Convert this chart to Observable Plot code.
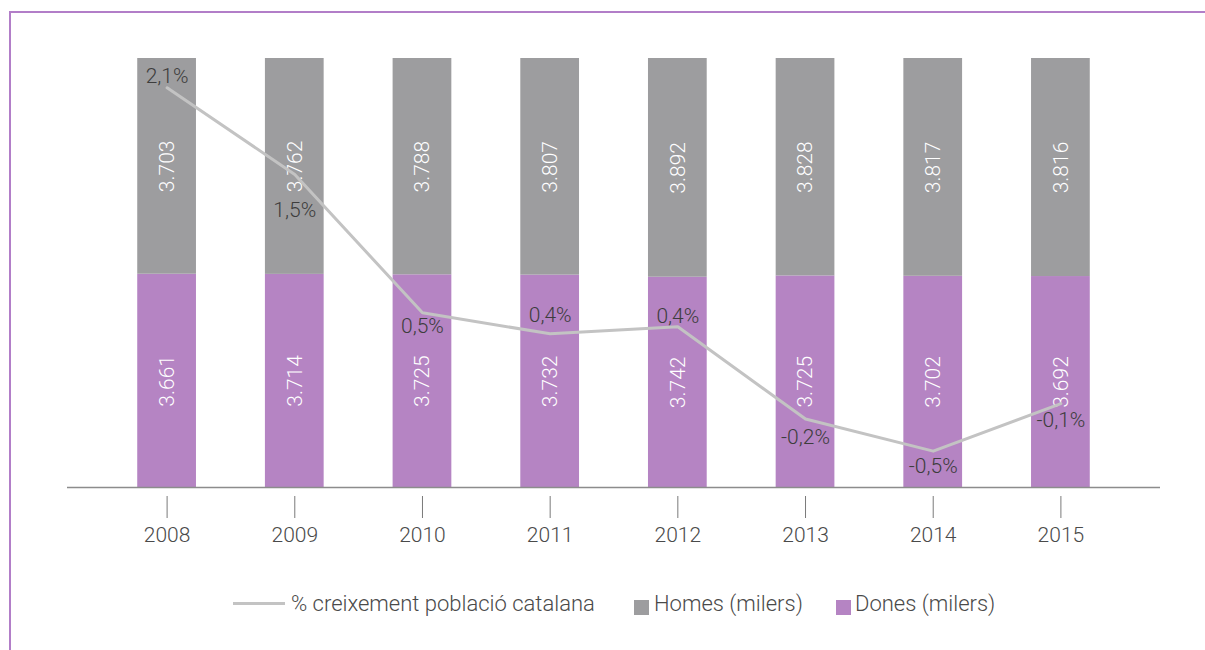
<!DOCTYPE html>
<html>
<head>
<meta charset="utf-8">
<script src="https://cdn.jsdelivr.net/npm/d3@7"></script>
<script src="https://cdn.jsdelivr.net/npm/@observablehq/plot@0.6"></script>
<style>
  html, body { margin: 0; padding: 0; background: #fff; }
  body { width: 1205px; height: 650px; position: relative; overflow: hidden; font-family: Roboto, "Liberation Sans", sans-serif; font-weight: 300; }
  #frame { position: absolute; left: 9px; top: 11px; width: 1196px; height: 639px; border-left: 2px solid #b27ec8; border-top: 2px solid #b27ec8; box-sizing: border-box; }
  #chart { position: absolute; left: 0; top: 0; }
  #chart svg { font-family: Roboto, "Liberation Sans", sans-serif; font-weight: 300; }
  .leg { position: absolute; font-size: 22px; line-height: 24px; color: #4a4a4a; white-space: nowrap; font-weight: 300; }
  .sw { position: absolute; }
</style>
</head>
<body>
<div id="frame"></div>
<div id="chart"></div>
<div id="legend"></div>
<script>
// ---- data ----
const years = ["2008", "2009", "2010", "2011", "2012", "2013", "2014", "2015"];
const homes = [3703, 3762, 3788, 3807, 3892, 3828, 3817, 3816];   // milers
const dones = [3661, 3714, 3725, 3732, 3742, 3725, 3702, 3692];   // milers
const growth = [2.1, 1.48, 0.49, 0.34, 0.39, -0.27, -0.5, -0.16]; // % creixement (line position)
const growthLabels = ["2,1%", "1,5%", "0,5%", "0,4%", "0,4%", "-0,2%", "-0,5%", "-0,1%"];
const seriesNames = ["Dones (milers)", "Homes (milers)", "% creixement població catalana"];

// ---- styles ----
const colHomes = "#9d9d9f", colDones = "#b584c3", colLine = "#c3c3c3";
const labelDy = [-12, 36, 13, -19, -11, 18, 15, 17];
const g2Domain = [-0.76, 2.31]; // secondary (hidden) axis for the growth line

const rows = [
  ...years.map((y, i) => ({year: y, sex: "Dones", value: dones[i]})),
  ...years.map((y, i) => ({year: y, sex: "Homes", value: homes[i]}))
];
const fmt = v => d3.format(",")(v).replace(/,/g, ".");
const toY = g => (g - g2Domain[0]) / (g2Domain[1] - g2Domain[0]);

const pctMarks = growth.map((g, i) => Plot.text([i], {
  x: () => years[i], y: () => toY(g), text: () => growthLabels[i],
  dy: labelDy[i], fill: "#3d3d3d", fontSize: 21, fontWeight: 300
}));

const chart = Plot.plot({
  width: 1205,
  height: 560,
  marginLeft: 67,
  marginRight: 45,
  marginTop: 58,
  marginBottom: 73,
  style: {background: "transparent", overflow: "visible"},
  x: {type: "band", domain: years, paddingInner: 0.54, paddingOuter: 0.55, round: false, label: null},
  y: {domain: [0, 1], axis: null},
  color: {domain: ["Dones", "Homes"], range: [colDones, colHomes]},
  marks: [
    Plot.barY(rows, Plot.stackY({x: "year", y: "value", z: "sex", fill: "sex", offset: "normalize"})),
    Plot.text(rows, Plot.stackY({
      x: "year", y: "value", z: "sex", offset: "normalize",
      text: d => fmt(d.value), rotate: -90, fill: "white", fontSize: 21, fontWeight: 300
    })),
    Plot.ruleY([0], {stroke: "#8c8c8c", strokeWidth: 1.5}),
    Plot.axisX({tickSize: 22, dy: 9, tickPadding: 9, fontSize: 21, stroke: "#7a7a7a", fill: "#4a4a4a", label: null}),
    Plot.line(years, {x: d => d, y: (d, i) => toY(growth[i]), stroke: colLine, strokeWidth: 3}),
    ...pctMarks
  ]
});
document.getElementById("chart").appendChild(chart);

// ---- legend ----
const legend = document.getElementById("legend");
legend.innerHTML = `
  <div class="sw" style="left:233px;top:602px;width:52px;height:3px;background:${colLine}"></div>
  <div class="leg" style="left:291px;top:592px">${seriesNames[2]}</div>
  <div class="sw" style="left:634px;top:600px;width:15px;height:15px;background:${colHomes}"></div>
  <div class="leg" style="left:654px;top:592px">${seriesNames[1]}</div>
  <div class="sw" style="left:836px;top:600px;width:15px;height:15px;background:${colDones}"></div>
  <div class="leg" style="left:855px;top:592px">${seriesNames[0]}</div>
`;
</script>
</body>
</html>
